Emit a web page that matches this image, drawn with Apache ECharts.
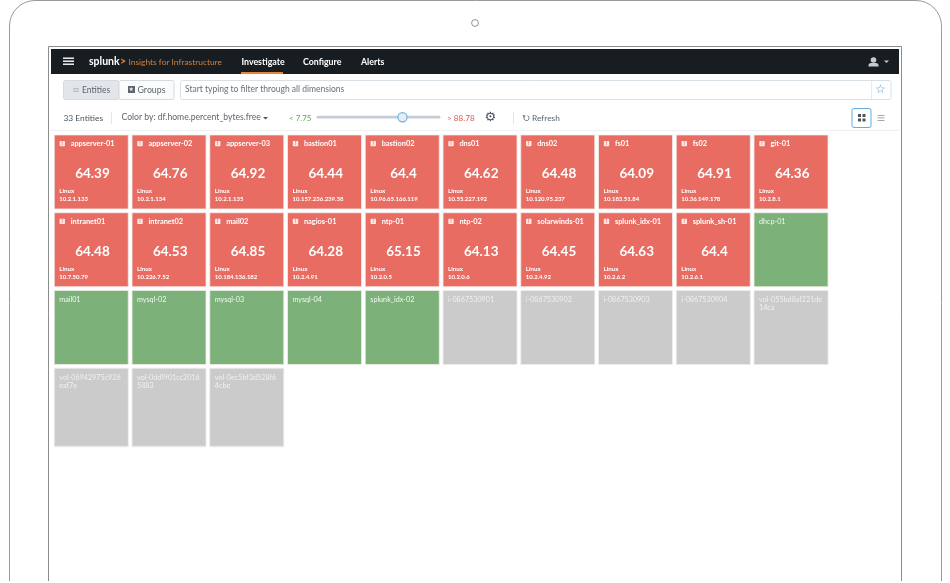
<!DOCTYPE html>
<html lang="en">
<head>
	<meta charset="UTF-8">
	<title>Insights for Infrastructure</title>
	<style type="text/css">
		html, body { margin: 0; padding: 0; background: #fff; }
		#container { width: 950px; height: 584px; }
	</style>
	<script type="text/javascript" src="https://cdn.jsdelivr.net/npm/echarts@6/dist/echarts.min.js"></script>
</head>
<body>
	<div id="container"></div>
	<script type="text/javascript">
	var names = ['appserver-01', 'appserver-02', 'appserver-03', 'bastion01', 'bastion02', 'dns01', 'dns02', 'fs01', 'fs02', 'git-01',
		'intranet01', 'intranet02', 'mail02', 'nagios-01', 'ntp-01', 'ntp-02', 'solarwinds-01', 'splunk_idx-01', 'splunk_sh-01', 'dhcp-01',
		'mail01', 'mysql-02', 'mysql-03', 'mysql-04', 'splunk_idx-02', 'i-0867530901', 'i-0867530902', 'i-0867530903', 'i-0867530904', 'vol-055bd8af221de14ca',
		'vol-06942975c926eaf7e', 'vol-0dd9f01cc20165883', 'vol-0ec5bf3d528f64cbe'];
	var values = [64.39, 64.76, 64.92, 64.44, 64.4, 64.62, 64.48, 64.09, 64.91, 64.36,
		64.48, 64.53, 64.85, 64.28, 65.15, 64.13, 64.45, 64.63, 64.4, null,
		null, null, null, null, null, null, null, null, null, null,
		null, null, null];
	var ips = ['10.2.1.133', '10.2.1.134', '10.2.1.135', '10.157.236.239.38', '10.96.65.166.119', '10.55.227.192', '10.120.95.237', '10.183.51.84', '10.36.149.178', '10.2.8.1',
		'10.7.50.79', '10.226.7.52', '10.184.136.182', '10.2.4.91', '10.2.0.5', '10.2.0.6', '10.2.4.92', '10.2.6.2', '10.2.6.1'];
	var healthy = ['dhcp-01', 'mail01', 'mysql-02', 'mysql-03', 'mysql-04', 'splunk_idx-02'];
	var columns = ['0', '1', '2', '3', '4', '5', '6', '7', '8', '9'];
	var rows = ['0', '1', '2', '3'];
	var navItems = ['Investigate', 'Configure', 'Alerts'];

	var FONT = 'Lato, "Open Sans", sans-serif';
	var RED = '#e96c62', GREEN = '#7cb27a', GREY = '#cbcbcb';

	var myChart = echarts.init(document.getElementById('container'), null, { renderer: 'canvas' });

	var cells = names.map(function (name, i) {
		return [i % columns.length, Math.floor(i / columns.length), i];
	});

	function tileColor(i) {
		if (values[i] != null) return RED;
		return healthy.indexOf(names[i]) >= 0 ? GREEN : GREY;
	}

	function renderTile(params, api) {
		var i = api.value(2);
		var center = api.coord([api.value(0), api.value(1)]);
		var size = api.size([1, 1]);
		var w = size[0] - 3.75, h = w;
		var x = center[0] - w / 2, y = center[1] - h / 2;
		var color = tileColor(i);
		var last = api.value(1) === rows.length - 1;
		var kids = [];
		// last row sits on a soft edge, the page fades out there
		if (last) {
			kids.push({ type: 'rect', shape: { x: x, y: y + h + 3, width: w, height: 2 }, style: { fill: '#e6e6e6' } });
		}
		kids.push({
			type: 'rect',
			shape: { x: x, y: y, width: w, height: last ? h + 4 : h },
			style: { fill: color, stroke: '#f1ecea', lineWidth: 0.8 }
		});
		if (values[i] != null) {
			kids.push({ type: 'rect', shape: { x: x + 5.3, y: y + 6, width: 5.4, height: 5.2, r: 0.6 }, style: { fill: '#fbe9e7' } });
			kids.push({ type: 'text', style: { x: x + 8, y: y + 8.6, text: '!', fill: RED, fontFamily: FONT, fontSize: 5, fontWeight: 'bold', align: 'center', verticalAlign: 'middle' } });
			kids.push({ type: 'text', style: { x: x + 16.4, y: y + 8.6, text: names[i], fill: '#fff', fontFamily: FONT, fontSize: 7.4, fontWeight: 'bold', verticalAlign: 'middle' } });
			kids.push({ type: 'text', style: { x: x + w / 2 + 1.2, y: y + 38.7, text: String(values[i]), fill: '#fff', fontFamily: FONT, fontSize: 13.5, fontWeight: 'bold', align: 'center', verticalAlign: 'middle' } });
			kids.push({ type: 'text', style: { x: x + 5, y: y + 56, text: 'Linux', fill: '#fff', fontFamily: FONT, fontSize: 6.2, fontWeight: 'bold', verticalAlign: 'middle' } });
			kids.push({ type: 'text', style: { x: x + 5, y: y + 64.3, text: ips[i], fill: '#fff', fontFamily: FONT, fontSize: 6, fontWeight: 'bold', verticalAlign: 'middle' } });
		} else {
			kids.push({ type: 'text', style: { x: x + 5, y: y + 4.8, text: names[i], width: 65, overflow: 'break', lineHeight: 8.6, fill: color === GREY ? '#f0f0f0' : '#f2f7f1', fontFamily: FONT, fontSize: 7.2 } });
		}
		return { type: 'group', children: kids };
	}

	function txt(x, y, text, size, fill, weight, family) {
		return { type: 'text', silent: true, style: { x: x, y: y, text: text, fill: fill, fontFamily: family || FONT, fontSize: size, fontWeight: weight || 'normal', verticalAlign: 'middle' } };
	}
	function box(x, y, w, h, fill, stroke, r) {
		return { type: 'rect', silent: true, shape: { x: x, y: y, width: w, height: h, r: r || 0 }, style: { fill: fill, stroke: stroke || null, lineWidth: stroke ? 1 : 0 } };
	}
	function vline(x, y1, y2, color) {
		return { type: 'line', silent: true, shape: { x1: x, y1: y1, x2: x, y2: y2 }, style: { stroke: color, lineWidth: 1 } };
	}
	function tri(points, fill) {
		return { type: 'polygon', silent: true, shape: { points: points }, style: { fill: fill } };
	}
	function corner(cx, cy, r, a0, a1) {
		return { type: 'arc', silent: true, shape: { cx: cx, cy: cy, r: r, startAngle: a0, endAngle: a1, clockwise: true }, style: { fill: null, stroke: '#9a9a9a', lineWidth: 1 } };
	}

	var navX = [241.5, 303, 361];
	var chrome = [
		// laptop outline
		vline(9.5, 26, 581, '#9a9a9a'), vline(941.5, 26, 581, '#9a9a9a'),
		{ type: 'line', silent: true, shape: { x1: 35, y1: 0.5, x2: 916, y2: 0.5 }, style: { stroke: '#9a9a9a', lineWidth: 1 } },
		corner(35, 26, 25.5, Math.PI, Math.PI * 1.5), corner(916, 26, 25.5, Math.PI * 1.5, Math.PI * 2),
		{ type: 'circle', silent: true, shape: { cx: 475, cy: 23, r: 3.4 }, style: { fill: '#fff', stroke: '#777', lineWidth: 0.8 } },
		{ type: 'polyline', silent: true, shape: { points: [[48.5, 581], [48.5, 46.5], [901.5, 46.5], [901.5, 581]] }, style: { fill: null, stroke: '#8c8c8c', lineWidth: 1 } },
		box(0, 583, 950, 1, '#d4d4d4'),
		// nav bar
		box(51, 49, 848, 25, '#181d21'),
		box(63, 57.5, 11, 1.4, '#fff'), box(63, 60.5, 11, 1.4, '#fff'), box(63, 63.5, 11, 1.4, '#fff'),
		txt(89, 62, 'splunk', 10.5, '#fff', 'bold'),
		txt(120, 61.5, '>', 10.5, '#e8833a', 'bold'),
		txt(128.5, 62.5, 'Insights for Infrastructure', 8.4, '#d4803a'),
		box(241, 72, 42, 2, '#e8833a'),
		// user menu
		{ type: 'circle', silent: true, shape: { cx: 873.5, cy: 60, r: 2.8 }, style: { fill: '#c8ccd0' } },
		{ type: 'rect', silent: true, shape: { x: 868.5, y: 63, width: 10, height: 3.5, r: [2.5, 2.5, 0, 0] }, style: { fill: '#c8ccd0' } },
		tri([[884, 60.5], [889, 60.5], [886.5, 63]], '#c8ccd0'),
		// filter row
		box(63.5, 80.5, 55.5, 19, '#e2e6ea', '#d5dade', 2),
		box(119, 80.5, 55, 19, '#fafbfb', '#d5dade', 2),
		box(73, 88, 6, 0.8, '#b5bbc0'), box(73, 89.6, 6, 0.8, '#b5bbc0'), box(73, 91.2, 6, 0.8, '#b5bbc0'),
		txt(82, 90, 'Entities', 8.5, '#5c6670'),
		box(128, 86, 7, 7, '#5c6670'),
		txt(128.7, 89.7, '★', 5.5, '#fafbfb', 'normal', 'DejaVu Sans'),
		txt(137.5, 90, 'Groups', 8.8, '#5c6670'),
		box(180.5, 80.5, 710.5, 19, '#fff', '#d9e0e5', 2),
		vline(871.5, 81, 99, '#e8ecef'),
		txt(185, 89.5, 'Start typing to filter through all dimensions', 8.5, '#66707a'),
		txt(875, 89.5, '☆', 12, '#4a9fdc', 'normal', 'DejaVu Sans'),
		// toolbar row
		txt(63.5, 118, '33 Entities', 8.4, '#4a545e'),
		vline(111.5, 112, 124, '#e4e7ea'),
		txt(121.5, 117.5, 'Color by: df.home.percent_bytes.free', 8.6, '#5c6670'),
		tri([[263, 117], [268, 117], [265.5, 119.5]], '#4a545e'),
		txt(289, 118, '< 7.75', 8, '#5ea55b'),
		box(316.5, 115.8, 124, 2.8, '#c5ced6', null, 1.4),
		{ type: 'circle', silent: true, shape: { cx: 402.5, cy: 117.3, r: 4.6 }, style: { fill: '#e7eef3', stroke: '#71b4e3', lineWidth: 1.2 } },
		txt(447, 118, '> 88.78', 8.2, '#e0594e'),
		txt(484.5, 117.5, '⚙', 13, '#4a545e', 'normal', 'DejaVu Sans'),
		vline(513.5, 112, 124, '#e4e7ea'),
		{ type: 'arc', silent: true, shape: { cx: 526.5, cy: 118, r: 2.6, startAngle: -1.2, endAngle: 3.6, clockwise: true }, style: { stroke: '#5c6670', lineWidth: 0.8, fill: null } },
		tri([[522.5, 115.2], [525.5, 115.2], [524, 117.8]], '#5c6670'),
		txt(532, 118, 'Refresh', 8.4, '#5c6670'),
		box(852, 108.5, 19, 19, '#fff', '#62ade0', 2),
		box(858, 114, 3, 3, '#4a545e'), box(862.5, 114, 3, 3, '#4a545e'), box(858, 118.5, 3, 3, '#4a545e'), box(862.5, 118.5, 3, 3, '#4a545e'),
		box(877.5, 115, 7, 0.8, '#8a939b'), box(877.5, 117.5, 7, 0.8, '#8a939b'), box(877.5, 120, 7, 0.8, '#8a939b'),
		box(51, 130, 848, 1, '#eef0f2')
	];
	navItems.forEach(function (label, i) {
		chrome.push(txt(navX[i], 62, label, 8.8, '#fff', 'bold'));
	});

	var option = {
		animation: false,
		backgroundColor: '#fff',
		grid: { left: 52.4, top: 133.1, width: 777.5, height: 311 },
		xAxis: { type: 'category', data: columns, show: false },
		yAxis: { type: 'category', data: rows, inverse: true, show: false },
		graphic: { elements: chrome },
		series: [{
			type: 'custom',
			renderItem: renderTile,
			data: cells,
			encode: { x: 0, y: 1 },
			clip: false
		}]
	};
	myChart.setOption(option, true);
	</script>
</body>
</html>
